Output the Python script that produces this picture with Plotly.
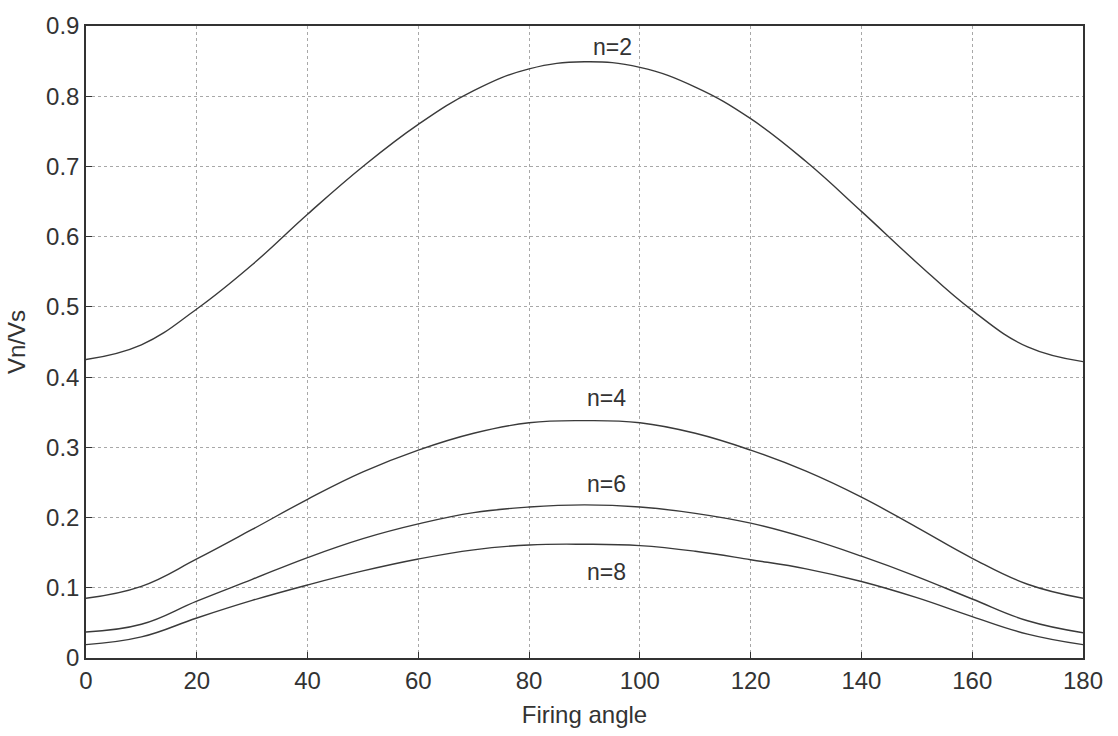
import plotly.graph_objects as go

angles = [0, 10, 20, 30, 40, 50, 60, 70, 80, 90, 100, 110, 120, 130, 140, 150, 160, 170, 180]
n2 = [0.425, 0.446, 0.497, 0.560, 0.632, 0.700, 0.760, 0.808, 0.839, 0.849, 0.841, 0.813, 0.768, 0.707, 0.636, 0.563, 0.495, 0.443, 0.422]
n4 = [0.085, 0.102, 0.141, 0.183, 0.226, 0.265, 0.296, 0.320, 0.335, 0.338, 0.335, 0.320, 0.296, 0.266, 0.229, 0.186, 0.142, 0.105, 0.085]
n6 = [0.037, 0.048, 0.081, 0.112, 0.143, 0.170, 0.191, 0.207, 0.215, 0.218, 0.215, 0.206, 0.192, 0.171, 0.145, 0.116, 0.084, 0.053, 0.036]
n8 = [0.019, 0.030, 0.057, 0.082, 0.104, 0.124, 0.141, 0.154, 0.161, 0.162, 0.160, 0.152, 0.140, 0.127, 0.109, 0.086, 0.059, 0.034, 0.019]

series = [("n=2", n2), ("n=4", n4), ("n=6", n6), ("n=8", n8)]
label_x = [95, 94, 94, 94]
label_y = [0.870, 0.370, 0.248, 0.1225]

x_ticks = [0, 20, 40, 60, 80, 100, 120, 140, 160, 180]
y_ticks = [0, 0.1, 0.2, 0.3, 0.4, 0.5, 0.6, 0.7, 0.8, 0.9]
y_tick_text = ["0", "0.1", "0.2", "0.3", "0.4", "0.5", "0.6", "0.7", "0.8", "0.9"]

FONT = "Liberation Sans, Arial, sans-serif"
TXT = "#333"

fig = go.Figure()
for name, vals in series:
    fig.add_trace(go.Scatter(
        x=angles, y=vals, mode="lines", name=name,
        line=dict(color="#3a3a3a", width=1.4, shape="spline", smoothing=1.2),
        showlegend=False,
    ))

for (name, _), lx, ly in zip(series, label_x, label_y):
    fig.add_annotation(x=lx, y=ly, text=name, showarrow=False,
                       font=dict(family=FONT, size=23, color=TXT),
                       xanchor="center", yanchor="middle")

axis_common = dict(
    showline=True, linecolor="#333", linewidth=1.5, mirror=True,
    ticks="inside", ticklen=6, tickcolor="#333",
    showgrid=True, gridcolor="#a8a8a8", gridwidth=1, griddash="dot",
    zeroline=False,
    tickfont=dict(family=FONT, size=24, color=TXT),
)

fig.update_xaxes(range=[0, 180], tickvals=x_ticks,
                 title=dict(text="Firing angle", font=dict(family=FONT, size=24, color=TXT), standoff=14),
                 **axis_common)
fig.update_yaxes(range=[0, 0.9], tickvals=y_ticks, ticktext=y_tick_text,
                 title=dict(text="Vn/Vs", font=dict(family=FONT, size=24, color=TXT), standoff=14),
                 **axis_common)

fig.update_layout(
    width=1118, height=736,
    margin=dict(l=86, r=35, t=16, b=76),
    plot_bgcolor="white", paper_bgcolor="white",
)

fig.write_html("out.html")
